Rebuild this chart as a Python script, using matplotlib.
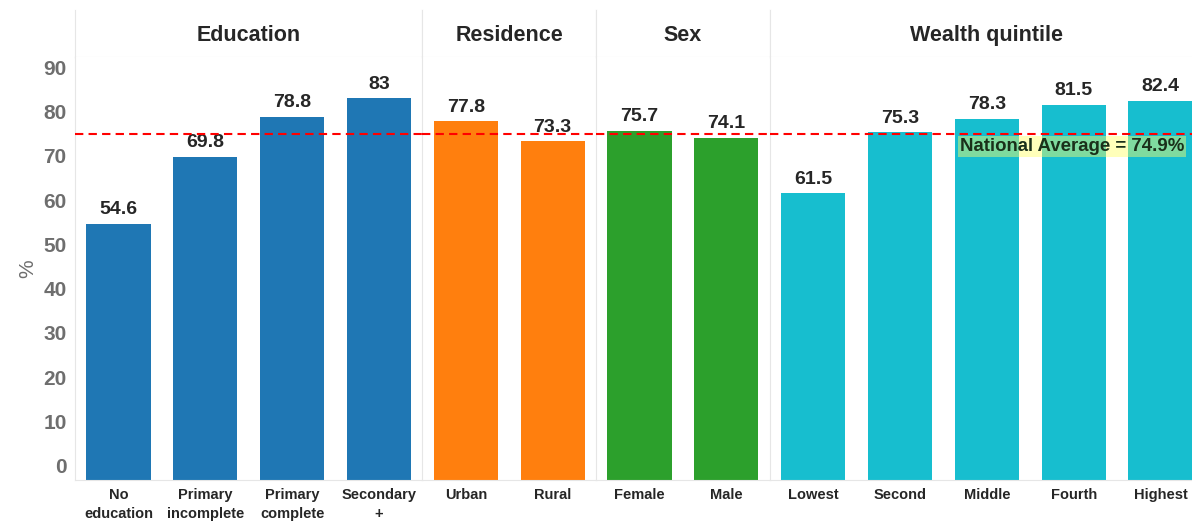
import matplotlib.pyplot as plt
from matplotlib.gridspec import GridSpec

plt.rcParams['font.family'] = ['Liberation Sans', 'DejaVu Sans']

groups = ["Education", "Residence", "Sex", "Wealth quintile"]
categories = [
    ["No\neducation", "Primary\nincomplete", "Primary\ncomplete", "Secondary\n+"],
    ["Urban", "Rural"],
    ["Female", "Male"],
    ["Lowest", "Second", "Middle", "Fourth", "Highest"],
]
values = [
    [54.6, 69.8, 78.8, 83],
    [77.8, 73.3],
    [75.7, 74.1],
    [61.5, 75.3, 78.3, 81.5, 82.4],
]
colors = ["#1f77b4", "#ff7f0e", "#2ca02c", "#17becf"]
national_avg = 74.9
yticks = [0, 10, 20, 30, 40, 50, 60, 70, 80, 90]

ymin, ymax = -3.2, 92.3
sep = "#e6e6e6"
txt = "#262626"

fig = plt.figure(figsize=(11.92, 5.21), dpi=100)
gs = GridSpec(2, 4, figure=fig, width_ratios=[len(c) for c in categories],
              height_ratios=[47, 423], left=75/1192, right=1204/1192,
              bottom=1-480/521, top=1-10/521, wspace=0, hspace=0)

for i, (grp, cats, vals, col) in enumerate(zip(groups, categories, values, colors)):
    hax = fig.add_subplot(gs[0, i])
    hax.set_xticks([])
    hax.set_yticks([])
    hax.spines["top"].set_visible(False)
    for s in ["left", "right", "bottom"]:
        hax.spines[s].set_color(sep)
    hax.text(0.5, 0.45, grp, ha="center", va="center", fontsize=15.5,
             fontweight="bold", color=txt, transform=hax.transAxes)

    ax = fig.add_subplot(gs[1, i])
    x = list(range(len(cats)))
    ax.bar(x, [v - ymin for v in vals], bottom=ymin, width=0.74, color=col)
    for xi, v in zip(x, vals):
        ax.annotate(f"{v:g}", (xi, v), xytext=(0, 4), textcoords="offset points",
                    ha="center", va="bottom", fontsize=14, fontweight="bold", color=txt)
    ax.axhline(national_avg, color="red", linestyle=(0, (4, 2.5)), linewidth=1.5, zorder=3)
    ax.set_xlim(-0.5, len(cats) - 0.5)
    ax.set_ylim(ymin, ymax)
    ax.set_xticks(x)
    ax.set_xticklabels(cats, fontsize=10.5, fontweight="bold", color=txt, linespacing=1.45)
    ax.tick_params(axis="x", length=0, pad=6)
    ax.spines["top"].set_visible(False)
    ax.spines["right"].set_visible(False)
    for s in ["left", "bottom"]:
        ax.spines[s].set_color(sep)
    if i == 0:
        ax.set_yticks(yticks)
        ax.set_yticklabels([str(t) for t in yticks], fontsize=15, fontweight="bold", color="#6e6e6e")
        ax.tick_params(axis="y", length=0, pad=6)
        ax.set_ylabel("%", fontsize=15, color="#6e6e6e", labelpad=4)
    else:
        ax.set_yticks([])
    if i == 3:
        ax.text(1.69, 72, f"National Average = {national_avg}%", ha="left", va="center",
                fontsize=13.4, fontweight="bold", color="#1a301a", zorder=4,
                bbox=dict(facecolor="#ffff66", alpha=0.45, edgecolor="none", pad=1.5))

fig.savefig("out.png", dpi=100)
